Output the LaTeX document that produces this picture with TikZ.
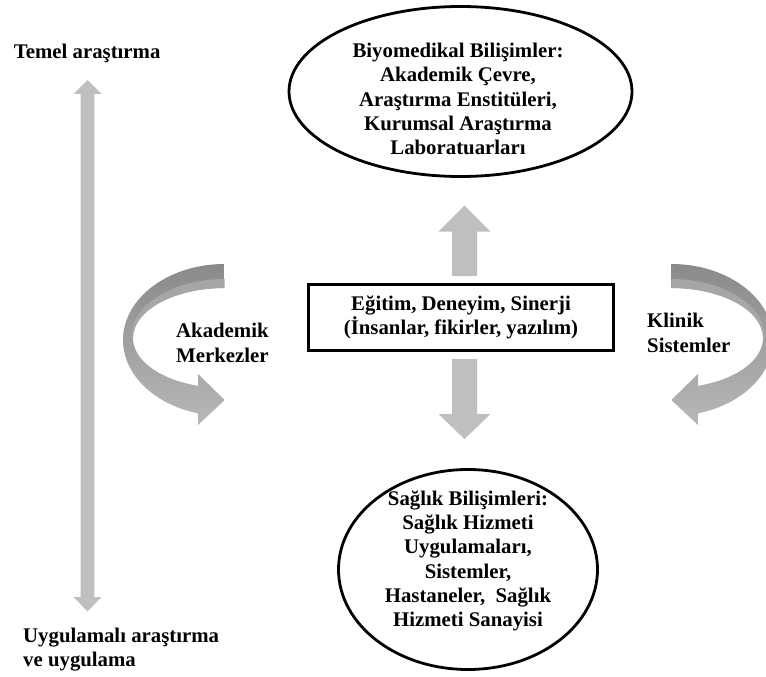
\documentclass[tikz,border=0pt]{standalone}
\usepackage{fontspec}
\setmainfont{Liberation Serif}
\usetikzlibrary{shapes.geometric}

\definecolor{blockgray}{HTML}{BFBFBF}
\definecolor{turndark}{HTML}{8A8A8A}
\definecolor{turnlight}{HTML}{B8B8B8}
\definecolor{turninner}{HTML}{A6A6A6}

\tikzset{
  lbl/.style={font=\fontsize{20.8}{24.3}\selectfont\bfseries, inner sep=0pt, text=black},
  oval/.style={ellipse, draw=black, line width=2.8pt, inner sep=0pt},
  centrebox/.style={rectangle, draw=black, line width=3.2pt, inner sep=0pt,
                    minimum width=305, minimum height=66},
  turnshade/.style={top color=turndark, bottom color=turnlight, draw=none}
}

% vertical block arrow: x, tail y, head-base y, tip y, shaft half-width, head half-width
\newcommand{\vblockarrow}[6]{%
  \fill[blockgray] (#1-#5,#2) -- (#1-#5,#3) -- (#1-#6,#3) -- (#1,#4)
    -- (#1+#6,#3) -- (#1+#5,#3) -- (#1+#5,#2) -- cycle;}

% curved turning arrow (left-hand version), with its lighter underside strip
\newcommand{\turnarrow}{%
  \shade[turnshade] (224.7,264)
    arc[start angle=270, end angle=105.2, x radius=101.7, y radius=76]
    -- (198,425) -- (224.7,400) -- (198,374) -- (198,385.8)
    arc[start angle=106.9, end angle=270, x radius=91.7, y radius=50]
    -- cycle;
  \fill[turninner] (224.7,279)
    arc[start angle=270, end angle=180, x radius=94, y radius=59]
    -- (133,338)
    arc[start angle=180, end angle=270, x radius=91.7, y radius=50]
    -- cycle;}

\begin{document}
\begin{tikzpicture}[x=1pt,y=-1pt]
\useasboundingbox (0,0) rectangle (766,677);

% research axis
\fill[blockgray] (87.5,80) -- (101.5,94) -- (94.3,94) -- (94.3,597) -- (101.5,597)
  -- (87.5,611.5) -- (73.5,597) -- (80.6,597) -- (80.6,94) -- (73.5,94) -- cycle;
\node[lbl, anchor=base west] (basic) at (13.7,58.5) {Temel araştırma};
\node[lbl, align=left, anchor=west] (applied) at (23,649.5) {Uygulamalı araştırma\\ve uygulama};

% turning arrows
\turnarrow
\begin{scope}[shift={(896,0)}, xscale=-1]
  \turnarrow
\end{scope}
\node[lbl, align=left, anchor=west] (academic) at (176,343) {Akademik\\Merkezler};
\node[lbl, align=left, anchor=west] (clinic) at (647,333) {Klinik\\Sistemler};

% top domain
\node[oval, minimum width=343, minimum height=170] (bio) at (460.5,91.5) {};
\node[lbl, align=center] (biotext) at (458,99)
  {Biyomedikal Bilişimler:\\Akademik Çevre,\\Araştırma Enstitüleri,\\Kurumsal Araştırma\\Laboratuarları};

% core
\node[centrebox, lbl, align=center] (core) at (461,317.5)
  {Eğitim, Deneyim, Sinerji\\(İnsanlar, fikirler, yazılım)};
\vblockarrow{464.5}{276}{231.6}{205.5}{12.5}{26}
\vblockarrow{464.5}{359}{414}{439}{12.5}{26}

% bottom domain
\node[oval, minimum width=259, minimum height=200] (health) at (468,569.5) {};
\node[lbl, align=center] (healthtext) at (468,561)
  {Sağlık Bilişimleri:\\Sağlık Hizmeti\\Uygulamaları,\\Sistemler,\\Hastaneler, ~Sağlık\\Hizmeti Sanayisi};
\end{tikzpicture}
\end{document}
